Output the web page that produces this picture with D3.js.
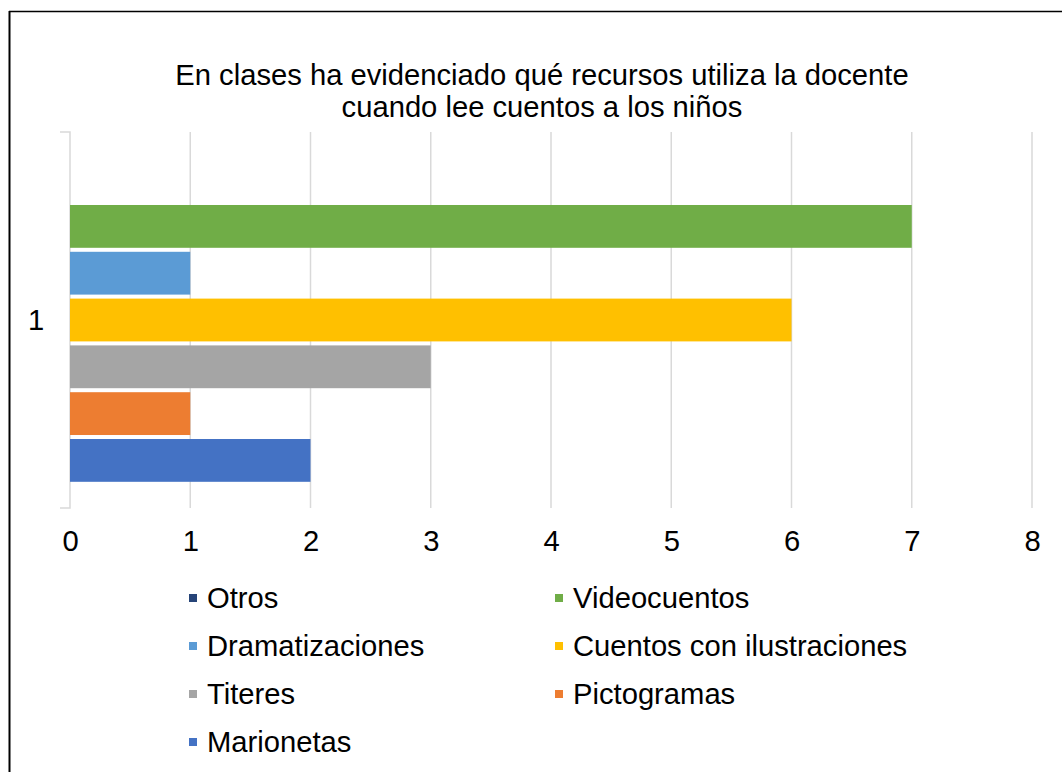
<!DOCTYPE html>
<html>
<head>
<meta charset="utf-8">
<script src="https://cdn.jsdelivr.net/npm/d3@7"></script>
<style>
  body { margin: 0; background: #fff; }
  text { font-family: "Liberation Sans", Arial, sans-serif; fill: #000; }
</style>
</head>
<body>
<div id="chart"></div>
<script>
// data, in legend order
var series = ["Otros", "Videocuentos", "Dramatizaciones", "Cuentos con ilustraciones", "Titeres", "Pictogramas", "Marionetas"];
var values = [0, 7, 1, 6, 3, 1, 2];
var colorsList = ["#264478", "#70AD47", "#5B9BD5", "#FFC000", "#A5A5A5", "#ED7D31", "#4472C4"];
var categories = ["1"];
var xTicks = [0, 1, 2, 3, 4, 5, 6, 7, 8];
var titleLines = ["En clases ha evidenciado qué recursos utiliza la docente", "cuando lee cuentos a los niños"];

var width = 1062, height = 772;
var plotLeft = 70, plotRight = 1032, plotTop = 132, plotBottom = 508;
var fontSize = 29.2;

var svg = d3.select("#chart").append("svg")
    .attr("width", width)
    .attr("height", height);

// frame (left and top edges only are visible)
svg.append("line").attr("x1", 9.5).attr("x2", 9.5).attr("y1", 11).attr("y2", height)
    .attr("stroke", "#000").attr("stroke-width", 2);
svg.append("line").attr("x1", 9).attr("x2", width).attr("y1", 11.5).attr("y2", 11.5)
    .attr("stroke", "#000").attr("stroke-width", 1.3);

// title
svg.append("text")
    .attr("text-anchor", "middle")
    .attr("font-size", fontSize)
    .selectAll("tspan")
    .data(titleLines)
    .enter().append("tspan")
    .attr("x", 542)
    .attr("y", (d, i) => 85 + i * 32)
    .text(d => d);

var x = d3.scaleLinear().domain([0, 8]).range([plotLeft, plotRight]);

var cat = d3.scaleBand().domain(categories).range([plotTop, plotBottom]);

var y = d3.scaleBand()
    .domain(series)
    .range([cat("1"), cat("1") + cat.bandwidth()])
    .paddingInner(0)
    .paddingOuter(0.517);

// gridlines
svg.append("g")
    .selectAll("line")
    .data(xTicks.slice(1))
    .enter().append("line")
    .attr("x1", d => x(d)).attr("x2", d => x(d))
    .attr("y1", plotTop).attr("y2", plotBottom)
    .attr("stroke", "#d9d9d9")
    .attr("stroke-width", 1.5);

// category axis with end ticks
svg.append("path")
    .attr("d", "M" + (plotLeft - 10) + "," + plotTop + "H" + plotLeft + "V" + plotBottom + "H" + (plotLeft - 10))
    .attr("fill", "none")
    .attr("stroke", "#d9d9d9")
    .attr("stroke-width", 1.5);

svg.append("g")
    .selectAll("text")
    .data(categories)
    .enter().append("text")
    .attr("x", 36)
    .attr("y", d => cat(d) + cat.bandwidth() / 2)
    .attr("dy", "0.35em")
    .attr("text-anchor", "middle")
    .attr("font-size", fontSize)
    .text(d => d);

// bars (white gap between neighbours)
svg.append("g")
    .selectAll("rect")
    .data(series)
    .enter().append("rect")
    .attr("x", x(0))
    .attr("y", d => y(d) + 2)
    .attr("width", (d, i) => x(values[i]) - x(0))
    .attr("height", y.bandwidth() - 4)
    .attr("fill", (d, i) => colorsList[i]);

// value axis labels
var xAxis = d3.axisBottom(x).tickValues(xTicks).tickSize(0).tickPadding(0);
var gx = svg.append("g")
    .attr("transform", "translate(0," + (plotBottom + 22) + ")")
    .call(xAxis);
gx.select(".domain").remove();
gx.selectAll("text")
    .attr("font-size", fontSize)
    .attr("font-family", "Liberation Sans, Arial, sans-serif")
    .attr("fill", "#000");

// legend, two columns
var legendCols = [189, 555];
var legend = svg.append("g")
    .selectAll("g")
    .data(series)
    .enter().append("g")
    .attr("transform", (d, i) => "translate(" + legendCols[i % 2] + "," + (598 + Math.floor(i / 2) * 48) + ")");

legend.append("rect")
    .attr("x", 0).attr("y", -4)
    .attr("width", 8).attr("height", 8)
    .attr("fill", (d, i) => colorsList[i]);

legend.append("text")
    .attr("x", 18)
    .attr("dy", "0.35em")
    .attr("font-size", fontSize)
    .text(d => d);
</script>
</body>
</html>
